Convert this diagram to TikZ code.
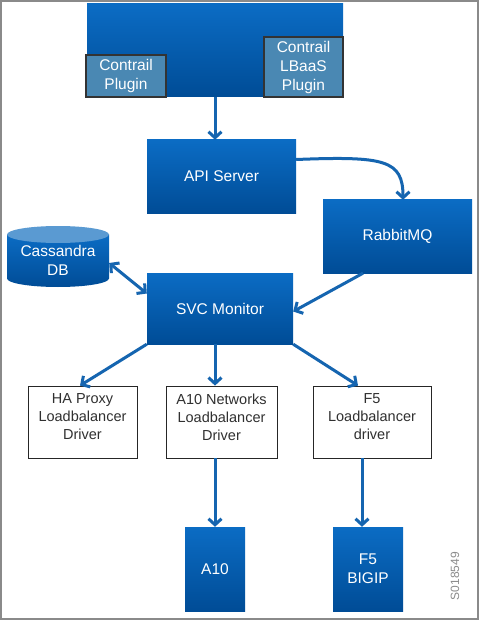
\documentclass[tikz,border=0pt]{standalone}
\usepackage{fontspec}
\setmainfont{Liberation Sans}
\usetikzlibrary{arrows.meta,calc}
\definecolor{bluetop}{HTML}{0B6CC4}
\definecolor{bluebot}{HTML}{004C96}
\definecolor{plugfill}{HTML}{4A88B3}
\definecolor{arrowblue}{HTML}{1565B0}
\definecolor{framegray}{HTML}{8A8A8A}
\definecolor{cylcap}{HTML}{5A9AD2}
\definecolor{drvtextcol}{HTML}{303030}
\begin{document}
\begin{tikzpicture}[x=1pt,y=-1pt,
  bluebox/.style={rectangle, top color=bluetop, bottom color=bluebot, draw=none, text=white,
    font=\fontsize{15.5}{19}\selectfont, align=center, inner sep=0pt},
  plugbox/.style={rectangle, fill=plugfill, draw=black!80, line width=2pt, text=white,
    font=\fontsize{15.5}{19}\selectfont, align=center, inner sep=0pt},
  drvbox/.style={rectangle, draw=black!85, line width=0.8pt, fill=white, inner sep=0pt},
  drvtext/.style={font=\fontsize{14.5}{18}\selectfont, align=center, text=drvtextcol, yshift=5pt},
  flow/.style={draw=arrowblue, line width=3pt, -{Straight Barb[length=6pt,width=13pt]}},
  biflow/.style={draw=arrowblue, line width=3pt, {Straight Barb[length=6pt,width=13pt]}-{Straight Barb[length=6pt,width=13pt]}}
]
\useasboundingbox (0,0) rectangle (479,620);
\fill[white] (0,0) rectangle (479,620);
\draw[framegray, line width=2.2pt] (1.1,1.1) rectangle (477.9,618.9);

% top block
\node[bluebox, minimum width=256, minimum height=93] (main) at (215,50.5) {};
\node[plugbox, minimum width=80, minimum height=42] (cplug) at (126,76) {Contrail\\Plugin};
\node[plugbox, minimum width=79, minimum height=60] (lplug) at (303.5,67) {Contrail\\LBaaS\\Plugin};

% middle
\node[bluebox, minimum width=149, minimum height=73] (api) at (221.5,176.5) {API Server};
\node[bluebox, minimum width=149, minimum height=73] (rabbit) at (397.5,236.5) {RabbitMQ};
\node[bluebox, minimum width=146, minimum height=71] (svc) at (220,308.5) {SVC Monitor};

% cylinder
\shade[top color=bluetop, bottom color=bluebot] (7,234.5) -- (7,278.5)
  arc[start angle=180, end angle=0, x radius=51, y radius=8.5] -- (109,234.5) -- cycle;
\fill[cylcap] (58,234.5) ellipse[x radius=51, y radius=8.5];
\node[text=white, font=\fontsize{15.5}{19}\selectfont, align=center, inner sep=0pt,
  minimum width=102, minimum height=54] (cass) at (58,260) {Cassandra\\DB};

% drivers
\node[drvbox, minimum width=109, minimum height=72,
  label={[drvtext]center:HA Proxy\\Loadbalancer\\Driver}] (ha) at (82.5,422) {};
\node[drvbox, minimum width=111, minimum height=72,
  label={[drvtext]center:A10 Networks\\Loadbalancer\\Driver}] (a10n) at (221.5,422) {};
\node[drvbox, minimum width=118, minimum height=72,
  label={[drvtext]center:F5\\Loadbalancer\\driver}] (f5lb) at (372,422) {};

% devices
\node[bluebox, minimum width=60, minimum height=84] (a10) at (215,569) {A10};
\node[bluebox, minimum width=70, minimum height=84] (bigip) at (368,569) {F5\\BIGIP};
\coordinate (bt) at ([xshift=-6pt]bigip.north);

\node[rotate=90, text=black!45, font=\fontsize{12}{14}\selectfont, inner sep=0pt] (code) at (455,576) {S018549};

% connectors
\draw[flow] (main.south) -- (main.south |- api.north);
\draw[flow] ([yshift=17pt]api.east) .. controls (385,156) and (403,160) .. ([xshift=5.5pt]rabbit.north);
\draw[flow] ([xshift=-34.5pt]rabbit.south) -- ([yshift=-3pt]svc.east);
\draw[biflow] ([yshift=-3pt]cass.east) -- ([yshift=15pt]svc.west);
\draw[flow] (svc.south west) -- ([xshift=-2.5pt]ha.north);
\draw[flow] (svc.south -| a10.north) -- (a10n.north -| a10.north);
\draw[flow] (svc.south east) -- ([xshift=-14pt]f5lb.north);
\draw[flow] (a10n.south -| a10.north) -- (a10.north);
\draw[flow] (f5lb.south -| bt) -- (bt);
\end{tikzpicture}
\end{document}
